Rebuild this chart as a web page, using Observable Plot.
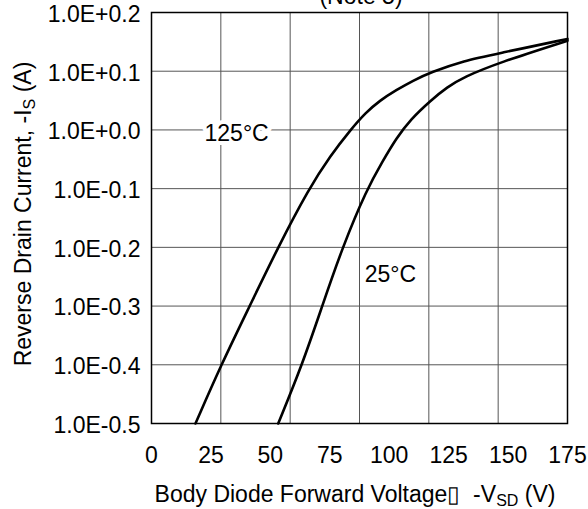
<!DOCTYPE html>
<html><head><meta charset="utf-8">
<script src="https://cdn.jsdelivr.net/npm/d3@7"></script>
<script src="https://cdn.jsdelivr.net/npm/@observablehq/plot@0.6"></script>
<style>
body{margin:0;background:#fff}
svg{font-family:"Liberation Sans",Arial,sans-serif}
</style>
</head><body><div id="chart"></div>
<script>
// Body diode forward voltage (axis units) vs reverse drain current (axis units)
const v125 = [18.5, 29.3, 41.3, 53.2, 66.2, 75.3, 83.7, 90.0, 96.0, 103.0, 110.0, 117.4, 131.4, 145.7, 175];
const i125 = [-0.5, -0.4, -0.3, -0.2, -0.1, -0.0435, 0.0, 0.029, 0.050, 0.068, 0.084, 0.098, 0.118, 0.130, 0.155];
const v25 = [53.3, 63.4, 71.8, 80.3, 90.7, 97.0, 103.0, 109.0, 117.4, 124.4, 131.4, 145.7, 175];
const i25 = [-0.5, -0.4, -0.3, -0.2, -0.1, -0.055, -0.014, 0.018, 0.050, 0.073, 0.090, 0.114, 0.152];
const curveLabels = ["125°C", "25°C"];
const labelV = [35.8, 100.5];
const labelI = [-0.006, -0.246];
const yTicks = [0.2, 0.1, 0, -0.1, -0.2, -0.3, -0.4, -0.5];
const yTickLabels = ["1.0E+0.2", "1.0E+0.1", "1.0E+0.0", "1.0E-0.1", "1.0E-0.2", "1.0E-0.3", "1.0E-0.4", "1.0E-0.5"];
const xTicks = [0, 25, 50, 75, 100, 125, 150, 175];
const xGrid = [0, 1, 2, 3, 4, 5, 6].map(k => k * 175 / 6);

const rows125 = v125.map((v, k) => ({v, i: i125[k]}));
const rows25 = v25.map((v, k) => ({v, i: i25[k]}));
const labelRows = curveLabels.map((t, k) => ({t, v: labelV[k], i: labelI[k]}));

const chart = Plot.plot({
  width: 588,
  height: 509,
  marginTop: 12,
  marginLeft: 151,
  marginRight: 21,
  marginBottom: 86,
  style: {fontFamily: '"Liberation Sans",Arial,sans-serif', background: "#fff"},
  x: {domain: [0, 175]},
  y: {domain: [-0.5, 0.2]},
  marks: [
    Plot.gridX(xGrid, {stroke: "#555", strokeOpacity: 1, strokeWidth: 1}),
    Plot.gridY(yTicks, {stroke: "#555", strokeOpacity: 1, strokeWidth: 1}),
    Plot.axisX(xTicks, {tickSize: 0, tickPadding: 23, fontSize: 23, label: null, color: "#000"}),
    Plot.axisY(yTicks, {tickSize: 0, tickPadding: 11, fontSize: 23, label: null, color: "#000",
      dy: 2, tickFormat: d => yTickLabels[yTicks.indexOf(d)]}),
    Plot.line(rows125, {x: "v", y: "i", curve: "basis", stroke: "#000", strokeWidth: 2.6}),
    Plot.line(rows25, {x: "v", y: "i", curve: "basis", stroke: "#000", strokeWidth: 2.6}),
    Plot.text(labelRows, {x: "v", y: "i", text: "t", fontSize: 23, fill: "#000",
      stroke: "#fff", strokeWidth: 8}),
    Plot.frame({stroke: "#000", strokeWidth: 1.5})
  ]
});
document.getElementById("chart").appendChild(chart);

const svg = d3.select(chart);
// top note (partially cut off in the original)
svg.append("text").attr("x", 361).attr("y", 4).attr("text-anchor", "middle")
  .attr("font-size", 23).attr("fill", "#000").text("(Note 5)");

// y axis title
const yt = svg.append("text").attr("transform", "translate(31,214) rotate(-90)")
  .attr("text-anchor", "middle").attr("font-size", 23).attr("fill", "#000");
yt.append("tspan").text("Reverse Drain Current, -I");
yt.append("tspan").attr("font-size", 16).attr("dy", 4).text("S");
yt.append("tspan").attr("dy", -4).text(" (A)");

// x axis title
const xt = svg.append("text").attr("x", 355).attr("y", 502)
  .attr("text-anchor", "middle").attr("font-size", 23).attr("fill", "#000");
xt.append("tspan").text("Body Diode Forward Voltage\u25AF\u00A0 -V");
xt.append("tspan").attr("font-size", 16).attr("dy", 4).text("SD");
xt.append("tspan").attr("dy", -4).text(" (V)");
</script>
</body></html>
